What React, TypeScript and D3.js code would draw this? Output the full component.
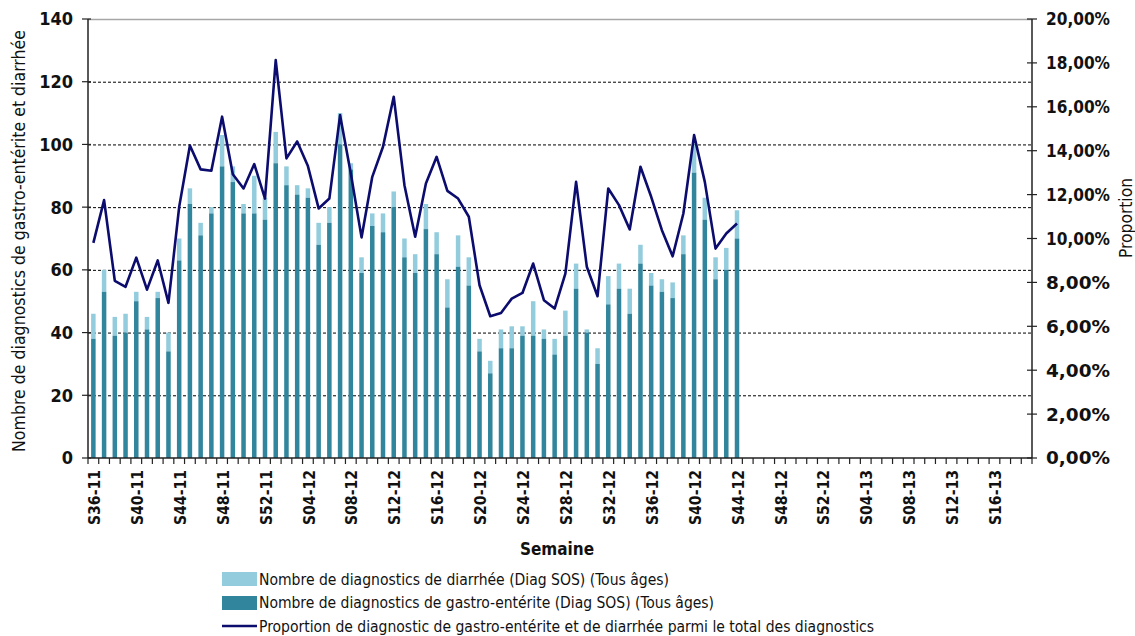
import React from 'react';
import * as d3 from 'd3';

// weeks S36-11 .. S19-13
const weeks: string[] = [];
for (let w = 36; w <= 52; w++) weeks.push('S' + w + '-11');
for (let w = 1; w <= 52; w++) weeks.push('S' + String(w).padStart(2, '0') + '-12');
for (let w = 1; w <= 19; w++) weeks.push('S' + String(w).padStart(2, '0') + '-13');

// gastro-enterite (dark part of the bars)
const gastro = [
  38, 53, 39, 40, 50, 41, 51, 34, 63, 81,
  71, 78, 93, 88, 78, 78, 76, 94, 87, 84,
  83, 68, 75, 100, 92, 59, 74, 72, 80, 64,
  59, 73, 65, 48, 61, 55, 34, 27, 35, 35,
  39, 39, 38, 33, 39, 54, 40, 30, 49, 54,
  46, 62, 55, 53, 51, 65, 91, 76, 57, 60,
  70,
];

// diarrhee (light part, stacked on top)
const diarrhee = [
  8, 7, 6, 6, 3, 4, 2, 6, 7, 5,
  4, 2, 10, 5, 3, 12, 7, 10, 6, 3,
  3, 7, 5, 10, 2, 5, 4, 6, 5, 6,
  6, 8, 7, 9, 10, 9, 4, 4, 6, 7,
  3, 11, 3, 5, 8, 8, 1, 5, 9, 8,
  8, 6, 4, 4, 5, 6, 9, 7, 7, 7,
  9,
];

// proportion (%) parmi le total des diagnostics
const proportion = [
  9.80, 11.75, 8.07, 7.80, 9.13, 7.67, 9.00, 7.07, 11.44, 14.24,
  13.15, 13.09, 15.55, 12.93, 12.28, 13.39, 11.82, 18.13, 13.65, 14.42,
  13.30, 11.37, 11.82, 15.62, 12.96, 10.05, 12.81, 14.18, 16.46, 12.43,
  10.08, 12.51, 13.72, 12.17, 11.82, 10.99, 7.87, 6.46, 6.61, 7.26,
  7.52, 8.86, 7.19, 6.81, 8.40, 12.58, 8.71, 7.37, 12.28, 11.52,
  10.41, 13.27, 11.90, 10.38, 9.19, 11.14, 14.71, 12.58, 9.54, 10.23,
  10.68,
];

const leftTicks = [0, 20, 40, 60, 80, 100, 120, 140];
const rightTicks = [0, 2, 4, 6, 8, 10, 12, 14, 16, 18, 20];

const legendLabels = [
  'Nombre de diagnostics de diarrhée (Diag SOS) (Tous âges)',
  'Nombre de diagnostics de gastro-entérite (Diag SOS) (Tous âges)',
  'Proportion de diagnostic de gastro-entérite et de diarrhée parmi le total des diagnostics',
];

const colors = { light: '#93cddd', dark: '#31859c', line: '#0c0c6e' };
const font = '"Liberation Sans Narrow", "DejaVu Sans Condensed", "Roboto", sans-serif';

export default function App() {
  const width = 1135;
  const height = 636;
  const left = 88, right = 1032, top = 19, bottom = 458;

  // scales
  const x = d3.scaleBand<string>()
    .domain(weeks)
    .range([left, right])
    .paddingInner(0.58)
    .paddingOuter(0.29);
  const step = x.step();
  const y = d3.scaleLinear().domain([0, 140]).range([bottom, top]);
  const yr = d3.scaleLinear().domain([0, 20]).range([bottom, top]);

  const line = d3.line<number>()
    .x((d, i) => (x(weeks[i]) as number) + x.bandwidth() / 2)
    .y(d => yr(d));

  const fmtPct = (v: number) => v.toFixed(2).replace('.', ',') + '%';

  let bars = gastro.map(function (g, i) {
    const bx = x(weeks[i]) as number;
    const total = g + diarrhee[i];
    return (
      <g key={'b' + i}>
        <rect x={bx} width={x.bandwidth()} y={y(total)} height={y(g) - y(total)} fill={colors.light} />
        <rect x={bx} width={x.bandwidth()} y={y(g)} height={bottom - y(g)} fill={colors.dark} />
      </g>
    );
  });

  return (
    <svg width={width} height={height} style={{ position: 'absolute', left: 0, top: 0, background: '#fff' }} fontFamily={font}>
      {/* grid */}
      {leftTicks.filter(t => t > 0 && t < 140).map(t => (
        <line key={'g' + t} x1={left} x2={right} y1={y(t) + 0.5} y2={y(t) + 0.5}
              stroke="#000" strokeWidth={1} strokeDasharray="3,2" />
      ))}
      <line x1={left} x2={right} y1={top + 0.5} y2={top + 0.5} stroke="#a6a6a6" strokeWidth={1.5} />

      {bars}

      <path d={line(proportion) || ''} fill="none" stroke={colors.line} strokeWidth={2.6} strokeLinejoin="round" />

      {/* axes */}
      <line x1={left} x2={left} y1={top} y2={bottom} stroke="#222" strokeWidth={1.5} />
      <line x1={right} x2={right} y1={top} y2={bottom} stroke="#222" strokeWidth={1.5} />
      <line x1={left} x2={right} y1={bottom} y2={bottom} stroke="#222" strokeWidth={1.5} />

      {leftTicks.map(t => (
        <g key={'l' + t}>
          <line x1={left - 6} x2={left + 3} y1={y(t)} y2={y(t)} stroke="#222" strokeWidth={1.2} />
          <text x={73} y={y(t)} dy="0.36em" textAnchor="end" fontSize={18} fontWeight="bold" fill="#111">{t}</text>
        </g>
      ))}

      {rightTicks.map(t => (
        <g key={'r' + t}>
          <line x1={right - 5} x2={right + 5} y1={yr(t)} y2={yr(t)} stroke="#222" strokeWidth={1.2} />
          <text x={1046} y={yr(t)} dy="0.36em" fontSize={18} fontWeight="bold" fill="#111"
                textLength={64} lengthAdjust="spacingAndGlyphs">{fmtPct(t)}</text>
        </g>
      ))}

      {d3.range(weeks.length + 1).map(i => (
        <line key={'xt' + i} x1={left + i * step} x2={left + i * step} y1={bottom} y2={bottom + 6}
              stroke="#222" strokeWidth={1.2} />
      ))}

      {weeks.map((w, i) => i % 4 !== 0 ? null : (
        <text key={'xl' + w}
              transform={'translate(' + ((x(w) as number) + x.bandwidth() / 2 + 1) + ',' + (bottom + 12) + ') rotate(-90)'}
              textAnchor="end" dy="0.35em" fontSize={16} fontWeight="bold" fill="#111"
              textLength={55} lengthAdjust="spacingAndGlyphs">{w}</text>
      ))}

      {/* axis titles */}
      <text x={557} y={555} textAnchor="middle" fontSize={17} fontWeight="bold" fill="#111">Semaine</text>
      <text transform="translate(19,241) rotate(-90)" textAnchor="middle" dy="0.35em" fontSize={17} fill="#111"
            textLength={422} lengthAdjust="spacingAndGlyphs">Nombre de diagnostics de gastro-entérite et diarrhée</text>
      <text transform="translate(1126,218) rotate(-90)" textAnchor="middle" dy="0.35em" fontSize={17} fill="#111"
            textLength={80} lengthAdjust="spacingAndGlyphs">Proportion</text>

      {/* legend */}
      <rect x={222} y={572} width={35} height={14} fill={colors.light} />
      <rect x={222} y={596} width={35} height={14} fill={colors.dark} />
      <line x1={222} x2={257} y1={626} y2={626} stroke={colors.line} strokeWidth={2.5} />
      {legendLabels.map((l, i) => (
        <text key={'lg' + i} x={259} y={579 + i * 23.5} dy="0.36em" fontSize={16} fill="#111"
              textLength={[410, 455, 615][i]} lengthAdjust="spacingAndGlyphs">{l}</text>
      ))}
    </svg>
  );
}
